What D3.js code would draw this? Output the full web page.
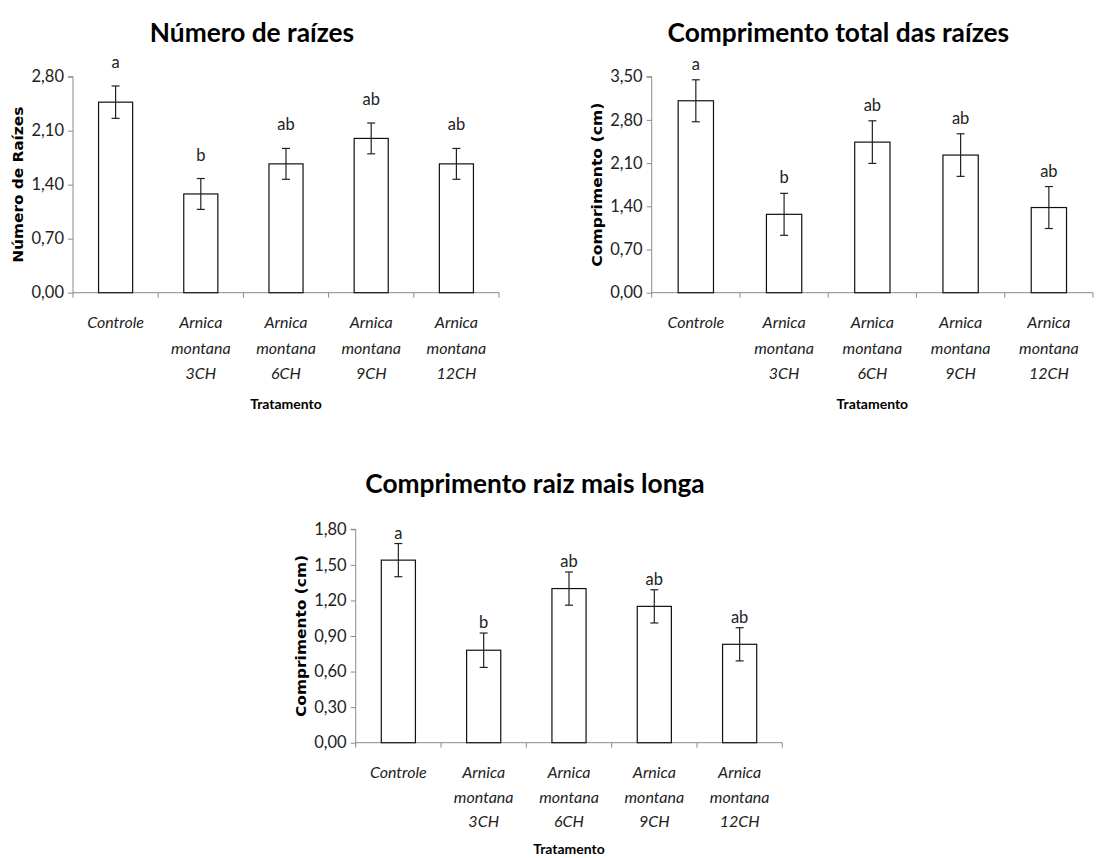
<!DOCTYPE html>
<html>
<head>
<meta charset="utf-8">
<script src="https://cdn.jsdelivr.net/npm/d3@7"></script>
<style>
  html, body { margin: 0; padding: 0; background: #fff; }
  svg { display: block; }
  .title { font-family: Lato, "Open Sans", sans-serif; font-weight: 700; fill: #000; }
  .tick-label, .cat-label, .sig { font-family: Lato, "Open Sans", sans-serif; fill: #222; }
  .cat-label { font-style: italic; }
  .ytitle { font-family: "DejaVu Sans", Verdana, sans-serif; font-weight: 700; fill: #000; }
  .xtitle { font-family: Lato, "Open Sans", sans-serif; font-weight: 700; fill: #000; }
</style>
</head>
<body>
<svg id="chart" width="1110" height="858"></svg>
<script>
// Treatments (shared by all three panels); "\n" marks a line break in the label
const categories = [
  "Controle",
  "Arnica\nmontana\n3CH",
  "Arnica\nmontana\n6CH",
  "Arnica\nmontana\n9CH",
  "Arnica\nmontana\n12CH"
];

// Número de raízes
const rootCount = [2.47, 1.28, 1.67, 2.00, 1.67];
const rootCountErr = [0.21, 0.20, 0.20, 0.20, 0.20];
const rootCountLetters = ["a", "b", "ab", "ab", "ab"];
const rootCountTicks = [0, 0.70, 1.40, 2.10, 2.80];

// Comprimento total das raízes (cm)
const totalLength = [3.11, 1.27, 2.44, 2.23, 1.38];
const totalLengthErr = [0.34, 0.34, 0.345, 0.345, 0.34];
const totalLengthLetters = ["a", "b", "ab", "ab", "ab"];
const totalLengthTicks = [0, 0.70, 1.40, 2.10, 2.80, 3.50];

// Comprimento raiz mais longa (cm)
const longestRoot = [1.54, 0.78, 1.30, 1.15, 0.83];
const longestRootErr = [0.14, 0.145, 0.14, 0.14, 0.14];
const longestRootLetters = ["a", "b", "ab", "ab", "ab"];
const longestRootTicks = [0, 0.30, 0.60, 0.90, 1.20, 1.50, 1.80];

const svg = d3.select("#chart");
const fmt = v => d3.format(".2f")(v).replace(".", ",");
const axisColor = "#8c8c8c";

function drawPanel(opt) {
  const g = svg.append("g");
  const x = d3.scaleBand()
    .domain(categories)
    .range([opt.left, opt.right])
    .paddingInner(0.6)
    .paddingOuter(0.3);
  const y = d3.scaleLinear()
    .domain([0, d3.max(opt.ticks)])
    .range([opt.bottom, opt.top]);

  // Title
  g.append("text")
    .attr("class", "title")
    .attr("x", (opt.left + opt.right) / 2 - 34)
    .attr("y", opt.titleY)
    .attr("text-anchor", "middle")
    .attr("dominant-baseline", "central")
    .style("font-size", "26.3px")
    .text(opt.title);

  // Y axis
  const yAxis = d3.axisLeft(y)
    .tickValues(opt.ticks)
    .tickFormat(fmt)
    .tickSize(5)
    .tickPadding(4);
  const ya = g.append("g")
    .attr("transform", `translate(${opt.left},0)`)
    .call(yAxis);
  ya.select(".domain").attr("stroke", axisColor).attr("d", `M-5,${opt.top}H0V${opt.bottom}`);
  ya.selectAll(".tick line").attr("stroke", axisColor);
  ya.selectAll(".tick text")
    .attr("class", "tick-label")
    .attr("fill", "#222")
    .style("font-size", "16.5px");

  // X axis: a line with tick marks at the category boundaries
  const step = x.step();
  const bounds = d3.range(categories.length + 1).map(i => opt.left + i * step);
  g.append("line")
    .attr("x1", opt.left).attr("x2", opt.right)
    .attr("y1", opt.bottom).attr("y2", opt.bottom)
    .attr("stroke", axisColor);
  g.selectAll(".xtick")
    .data(bounds)
    .join("line")
    .attr("x1", d => d).attr("x2", d => d)
    .attr("y1", opt.bottom).attr("y2", opt.bottom + 5)
    .attr("stroke", axisColor);

  // Bars
  g.selectAll(".bar")
    .data(opt.values)
    .join("rect")
    .attr("x", (d, i) => x(categories[i]))
    .attr("y", d => y(d))
    .attr("width", x.bandwidth())
    .attr("height", d => y(0) - y(d))
    .attr("fill", "#fff")
    .attr("stroke", "#111")
    .attr("stroke-width", 1.2);

  // Error bars
  const cap = 4;
  const eb = g.selectAll(".err")
    .data(opt.values.map((v, i) => ({ v, e: opt.errors[i], c: categories[i] })))
    .join("g")
    .attr("transform", d => `translate(${x(d.c) + x.bandwidth() / 2},0)`);
  eb.append("line")
    .attr("y1", d => y(d.v + d.e)).attr("y2", d => y(d.v - d.e))
    .attr("stroke", "#222").attr("stroke-width", 1.2);
  eb.append("line")
    .attr("x1", -cap).attr("x2", cap)
    .attr("y1", d => y(d.v + d.e)).attr("y2", d => y(d.v + d.e))
    .attr("stroke", "#222").attr("stroke-width", 1.2);
  eb.append("line")
    .attr("x1", -cap).attr("x2", cap)
    .attr("y1", d => y(d.v - d.e)).attr("y2", d => y(d.v - d.e))
    .attr("stroke", "#222").attr("stroke-width", 1.2);

  // Significance letters above each error bar
  eb.append("text")
    .attr("class", "sig")
    .attr("y", d => y(d.v + d.e) - opt.letterGap)
    .attr("text-anchor", "middle")
    .attr("dominant-baseline", "central")
    .style("font-size", "16.5px")
    .text((d, i) => opt.letters[i]);

  // Category labels (multi-line, italic)
  const cl = g.selectAll(".cat")
    .data(categories)
    .join("text")
    .attr("class", "cat-label")
    .attr("text-anchor", "middle")
    .attr("dominant-baseline", "central")
    .style("font-size", "16px")
    .attr("transform", d => `translate(${x(d) + x.bandwidth() / 2},${opt.bottom + 28.5})`);
  cl.selectAll("tspan")
    .data(d => d.split("\n"))
    .join("tspan")
    .attr("x", 0)
    .attr("y", (d, i) => i * opt.lineGap)
    .text(d => d);

  // Axis titles
  g.append("text")
    .attr("class", "xtitle")
    .attr("x", (opt.left + opt.right) / 2)
    .attr("y", opt.bottom + opt.xTitleGap)
    .attr("text-anchor", "middle")
    .attr("dominant-baseline", "central")
    .style("font-size", "14px")
    .text("Tratamento");
  g.append("text")
    .attr("class", "ytitle")
    .attr("transform", `translate(${opt.left - 55},${(opt.top + opt.bottom) / 2}) rotate(-90)`)
    .attr("text-anchor", "middle")
    .attr("dominant-baseline", "central")
    .attr("textLength", opt.yTitleLength)
    .attr("lengthAdjust", "spacingAndGlyphs")
    .style("font-size", "13.5px")
    .text(opt.yTitle);
}

drawPanel({
  title: "Número de raízes", yTitle: "Número de Raízes",
  values: rootCount, errors: rootCountErr, letters: rootCountLetters, ticks: rootCountTicks,
  left: 73, right: 499, top: 76.7, bottom: 292.7, titleY: 32,
  letterGap: 24, lineGap: 25.5, xTitleGap: 111, yTitleLength: 156
});
drawPanel({
  title: "Comprimento total das raízes", yTitle: "Comprimento (cm)",
  values: totalLength, errors: totalLengthErr, letters: totalLengthLetters, ticks: totalLengthTicks,
  left: 651.7, right: 1093, top: 76.7, bottom: 292.7, titleY: 32,
  letterGap: 16, lineGap: 25.5, xTitleGap: 111, yTitleLength: 164
});
drawPanel({
  title: "Comprimento raiz mais longa", yTitle: "Comprimento (cm)",
  values: longestRoot, errors: longestRootErr, letters: longestRootLetters, ticks: longestRootTicks,
  left: 355.7, right: 782.3, top: 529.3, bottom: 742.7, titleY: 483,
  letterGap: 11, lineGap: 24.5, xTitleGap: 106, yTitleLength: 162
});
</script>
</body>
</html>
